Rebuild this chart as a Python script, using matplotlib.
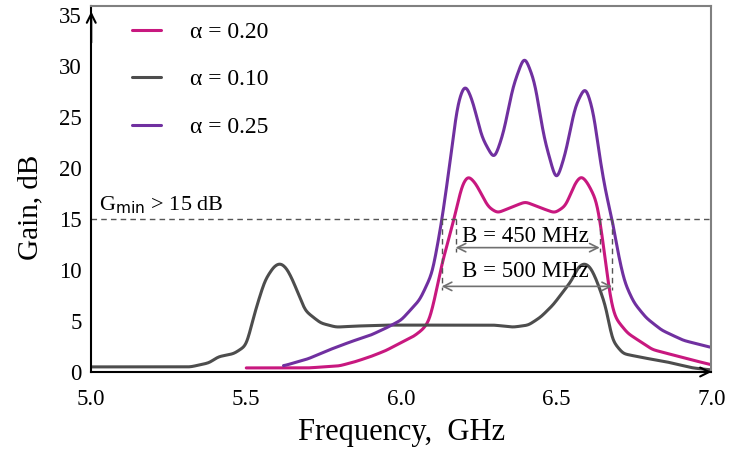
import matplotlib.pyplot as plt
import numpy as np

# gain curves (frequency GHz, gain dB)
f_a10 = [5.0, 5.1, 5.2, 5.32, 5.38, 5.41, 5.46, 5.50, 5.53, 5.56, 5.59, 5.61, 5.63, 5.65, 5.69, 5.74, 5.79,
         5.85, 5.95, 6.05, 6.2, 6.3, 6.36, 6.41, 6.45, 6.49, 6.51, 6.55, 6.57, 6.59, 6.61, 6.63, 6.66, 6.68,
         6.715, 6.78, 6.855, 6.94, 7.0]
g_a10 = [0.5, 0.5, 0.5, 0.5, 0.9, 1.5, 1.8, 2.6, 6.1, 9.0, 10.4, 10.7, 10.2, 9.0, 6.0, 4.8, 4.4,
         4.5, 4.6, 4.6, 4.6, 4.6, 4.4, 4.6, 5.4, 6.6, 7.4, 9.0, 10.3, 10.7, 10.3, 9.0, 6.4, 3.1,
         1.8, 1.4, 1.0, 0.4, 0.2]

f_a20 = [5.5, 5.6, 5.7, 5.8, 5.85, 5.9, 5.95, 6.0, 6.04, 6.07, 6.09, 6.11, 6.13, 6.155, 6.175, 6.195, 6.215,
         6.24, 6.28, 6.31, 6.35, 6.40, 6.45, 6.495, 6.53, 6.56, 6.58, 6.60, 6.63, 6.645, 6.66, 6.675, 6.69,
         6.73, 6.81, 6.91, 7.0]
g_a20 = [0.4, 0.4, 0.4, 0.6, 1.0, 1.5, 2.1, 2.9, 3.5, 4.2, 5.0, 7.5, 10.5, 13.3, 15.6, 18.3, 19.3,
         18.5, 16.2, 15.6, 16.1, 16.7, 16.1, 15.6, 16.3, 18.5, 19.3, 18.6, 16.8, 14.0, 10.5, 7.0, 5.3,
         3.8, 2.2, 1.4, 0.7]

f_a25 = [5.62, 5.7, 5.77, 5.84, 5.9, 5.95, 6.0, 6.06, 6.10, 6.13, 6.16, 6.18, 6.20, 6.208, 6.23, 6.26,
         6.30, 6.33, 6.36, 6.397, 6.43, 6.46, 6.50, 6.53, 6.56, 6.594, 6.62, 6.64, 6.66, 6.68, 6.70,
         6.72, 6.75, 6.79, 6.84, 6.91, 7.0]
g_a25 = [0.6, 1.3, 2.2, 3.0, 3.6, 4.3, 5.1, 7.1, 9.7, 14.7, 21.2, 26.1, 28.0, 28.2, 26.6, 23.0,
         20.8, 23.5, 28.0, 31.1, 28.5, 23.0, 18.6, 21.5, 26.0, 28.1, 25.5, 21.0, 17.5, 15.0, 11.5,
         8.8, 6.8, 5.3, 4.1, 3.1, 2.4]

labels = ['α = 0.20', 'α = 0.10', 'α = 0.25']
colors = ['#C8187F', '#4D4D4D', '#7030A0']

g_min = 15
bw_inner = (6.175, 6.64, 12.2)   # B = 450 MHz
bw_outer = (6.13, 6.68, 8.4)     # B = 500 MHz

plt.rcParams['font.family'] = ['Liberation Serif', 'DejaVu Serif']

fig = plt.figure(figsize=(7.3, 4.49), dpi=100)
ax = fig.add_axes([0.125, 0.1715, 0.8495, 0.815])

def smooth(x, y, sigma=0.008):
    # linear interpolation on a fine grid, then a small gaussian blur to round the corners
    xs = np.linspace(x[0], x[-1], 1200)
    ys = np.interp(xs, x, y)
    dx = xs[1] - xs[0]
    n = int(4 * sigma / dx)
    k = np.exp(-0.5 * (np.arange(-n, n + 1) * dx / sigma) ** 2)
    k /= k.sum()
    pad = np.concatenate([np.full(n, ys[0]), ys, np.full(n, ys[-1])])
    return xs, np.convolve(pad, k, mode='valid')

for (fx, gy), lab, c in zip([(f_a20, g_a20), (f_a10, g_a10), (f_a25, g_a25)], labels, colors):
    xs, ys = smooth(fx, gy)
    ax.plot(xs, ys, color=c, lw=2.2, label=lab, solid_capstyle='round')

ax.axhline(g_min, color='#555555', lw=1.0, ls=(0, (4, 3)))
for f1, f2, g in [bw_inner, bw_outer]:
    for f in (f1, f2):
        ax.plot([f, f], [g_min, g - 0.4], color='#555555', lw=1.0, ls=(0, (4, 3)))
    ax.annotate('', xy=(f1, g), xytext=(f2, g),
                arrowprops=dict(arrowstyle='<->', color='#707070', lw=1.2, shrinkA=0, shrinkB=0,
                                mutation_scale=15))
ax.text(6.40, 13.3, 'B = 450 MHz', fontsize=16.5, ha='center', va='center')
ax.text(6.40, 9.9, 'B = 500 MHz', fontsize=16.5, ha='center', va='center')
ax.text(5.025, 16.4, r'G$_{\mathrm{min}}$ > 15 dB', fontsize=16, ha='left', va='center')

ax.set_xlim(5.0, 7.0)
ax.set_ylim(0, 35.9)
ax.set_xticks([5.0, 5.5, 6.0, 6.5, 7.0])
ax.set_xticklabels(['5.0', '5.5', '6.0', '6.5', '7.0'])
ax.set_yticks(range(0, 36, 5))
ax.tick_params(length=0, labelsize=16.5, pad=7)
ax.tick_params(axis='x', pad=12)
ax.set_xlabel('Frequency,  GHz', fontsize=22, labelpad=6)
ax.set_ylabel('Gain, dB', fontsize=21)
ax.yaxis.set_label_coords(-0.078, 0.45)

for s in ('top', 'right'):
    ax.spines[s].set_color('#808080')
    ax.spines[s].set_linewidth(1.5)
for s in ('left', 'bottom'):
    ax.spines[s].set_color('black')
    ax.spines[s].set_linewidth(1.5)
ax.annotate('', xy=(0, 0.985), xytext=(0, 0.9), xycoords='axes fraction',
            arrowprops=dict(arrowstyle='->', color='black', lw=1.5, mutation_scale=16, shrinkA=0, shrinkB=0))
ax.annotate('', xy=(1.0, 0), xytext=(0.95, 0), xycoords='axes fraction',
            arrowprops=dict(arrowstyle='->', color='black', lw=1.5, mutation_scale=16, shrinkA=0, shrinkB=0))

leg = ax.legend(loc='upper left', bbox_to_anchor=(0.031, 1.016), frameon=False, fontsize=17,
                handlelength=1.25, labelspacing=1.1, handletextpad=1.2)

fig.savefig('out.png', dpi=100)
